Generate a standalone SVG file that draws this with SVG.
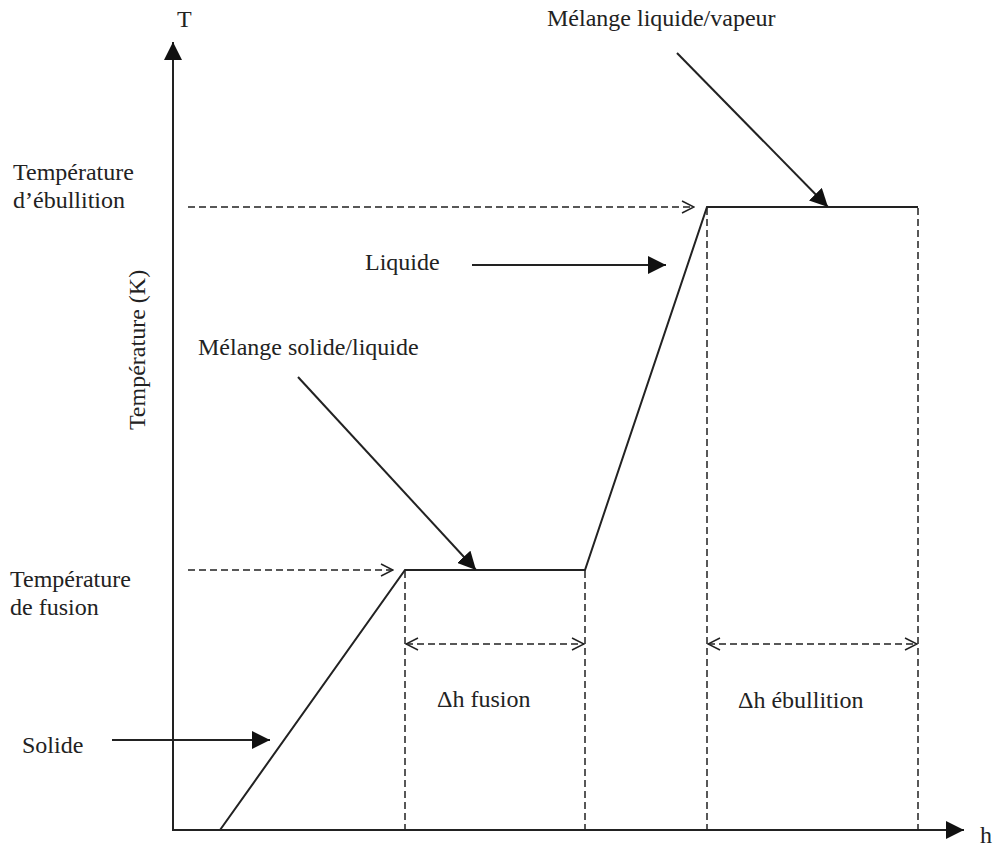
<svg xmlns="http://www.w3.org/2000/svg" width="994" height="857" viewBox="0 0 994 857">
<style>
.t{font-family:"Liberation Serif","DejaVu Serif","Times New Roman",Times,serif;font-size:24px;fill:#222}
.s{stroke:#222;stroke-width:2;fill:none}
.d{stroke:#222;stroke-width:1.5;fill:none;stroke-dasharray:7,4}
</style>
<defs>
<marker id="big" viewBox="0 0 18 18" refX="18" refY="9" markerWidth="18" markerHeight="18" markerUnits="userSpaceOnUse" orient="auto"><path d="M0,0 L18,9 L0,18 z" fill="#111"/></marker>
<marker id="oa" viewBox="0 0 14 14" refX="13" refY="7" markerWidth="14" markerHeight="14" markerUnits="userSpaceOnUse" orient="auto"><path d="M1,1 L13,7 L1,13" fill="none" stroke="#222" stroke-width="1.5"/></marker>
<marker id="ob" viewBox="0 0 14 14" refX="1" refY="7" markerWidth="14" markerHeight="14" markerUnits="userSpaceOnUse" orient="auto"><path d="M13,1 L1,7 L13,13" fill="none" stroke="#222" stroke-width="1.5"/></marker>
</defs>
<g id="axes">
<line class="s" x1="173" y1="831" x2="173" y2="42" marker-end="url(#big)"/>
<line class="s" x1="172" y1="830" x2="964" y2="830" marker-end="url(#big)"/>
<text class="t" x="177" y="27">T</text>
<text class="t" x="980" y="843">h</text>
<text class="t" transform="translate(145,350) rotate(-90)" text-anchor="middle">Température (K)</text>
</g>
<g id="curve">
<polyline class="s" points="220,830 405,570 585,570 707,207 918,207"/>
</g>
<g id="connectors">
<line class="d" x1="405" y1="571" x2="405" y2="830"/>
<line class="d" x1="585" y1="571" x2="585" y2="830"/>
<line class="d" x1="707" y1="208" x2="707" y2="830"/>
<line class="d" x1="918" y1="208" x2="918" y2="830"/>
<line class="d" x1="188" y1="570" x2="393" y2="570" marker-end="url(#oa)"/>
<line class="d" x1="188" y1="207" x2="694" y2="207" marker-end="url(#oa)"/>
<line class="d" x1="406" y1="644" x2="584" y2="644" marker-start="url(#ob)" marker-end="url(#oa)"/>
<line class="d" x1="708" y1="644" x2="917" y2="644" marker-start="url(#ob)" marker-end="url(#oa)"/>
<line class="s" x1="112" y1="740" x2="270" y2="740" marker-end="url(#big)"/>
<line class="s" x1="472" y1="265" x2="666" y2="265" marker-end="url(#big)"/>
<line class="s" x1="298" y1="377" x2="476" y2="570" marker-end="url(#big)"/>
<line class="s" x1="677" y1="53" x2="828" y2="207" marker-end="url(#big)"/>
</g>
<g id="labels" class="t">
<text x="547" y="26">Mélange liquide/vapeur</text>
<text x="13" y="180">Température</text>
<text x="13" y="208">d’ébullition</text>
<text x="365" y="270">Liquide</text>
<text x="198" y="355">Mélange solide/liquide</text>
<text x="10" y="587">Température</text>
<text x="10" y="615">de fusion</text>
<text x="22" y="753">Solide</text>
<text x="437" y="707">Δh fusion</text>
<text x="738" y="708">Δh ébullition</text>
</g>
</svg>
